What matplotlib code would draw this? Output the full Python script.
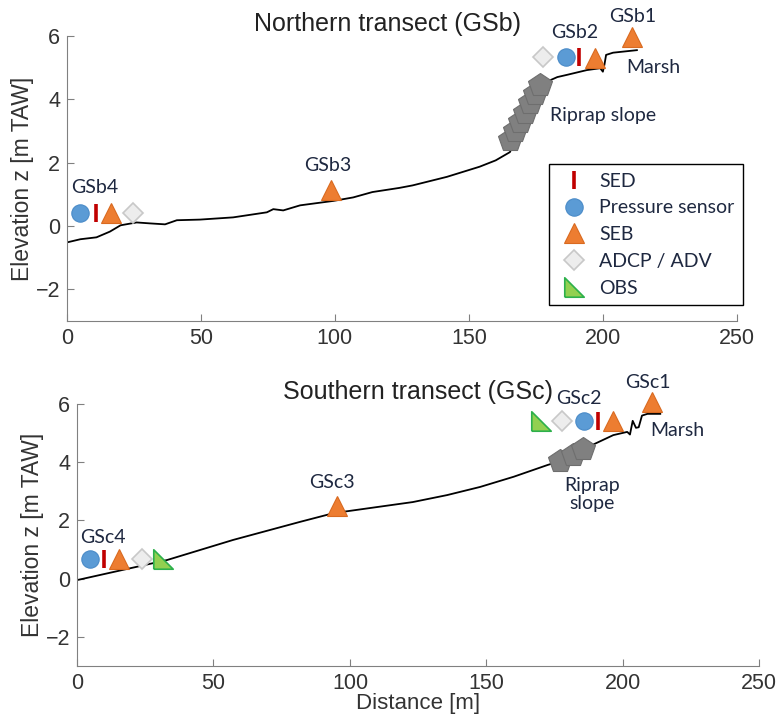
import matplotlib.pyplot as plt
from matplotlib.lines import Line2D

# cross-shore profiles (distance [m], elevation [m TAW])
gsb_x = [0, 5, 11, 16, 20, 26, 31, 36.6, 41, 49.6, 62, 74.6, 77, 80.7, 87, 99.4, 106.8,
         114, 124, 129, 141.8, 154, 160, 165.3, 170, 175, 179, 183, 186.6, 194, 199,
         200, 200.6, 201.2, 203.8, 212.7]
gsb_z = [-0.52, -0.42, -0.36, -0.18, 0.02, 0.11, 0.08, 0.05, 0.18, 0.2, 0.27, 0.43, 0.53,
         0.49, 0.65, 0.79, 0.9, 1.07, 1.2, 1.28, 1.55, 1.87, 2.07, 2.33, 3.2, 4.0, 4.55,
         4.7, 4.77, 4.92, 4.98, 4.87, 5.1, 5.4, 5.47, 5.55]

gsc_x = [0, 33, 57.2, 81.7, 94, 110, 123, 135.6, 147.7, 160, 172.3, 181.8, 189, 196.5,
         201.6, 202.6, 203.6, 204.8, 205.8, 207, 209, 213.7]
gsc_z = [-0.05, 0.64, 1.33, 1.95, 2.25, 2.46, 2.63, 2.87, 3.15, 3.5, 3.9, 4.18, 4.6, 4.93,
         5.04, 4.95, 5.42, 5.18, 5.2, 5.6, 5.66, 5.66]

# riprap blocks
riprap_b_x = [165.5, 167.3, 169.1, 170.9, 172.8, 174.6, 176.5]
riprap_b_z = [2.7, 2.99, 3.28, 3.57, 3.87, 4.16, 4.45]
riprap_c_x = [177, 181.8, 185.5]
riprap_c_z = [4.04, 4.25, 4.45]

# instruments per transect: (x, z)
gsb_sed = [(10.8, 0.4), (191, 5.33)]
gsb_ps = [(4.9, 0.4), (186.2, 5.33)]
gsb_seb = [(16.4, 0.42), (98.5, 1.15), (197, 5.3), (211, 5.95)]
gsb_adcp = [(24.7, 0.4), (177.6, 5.33)]
gsb_obs = []

gsc_sed = [(9.9, 0.66), (191, 5.4)]
gsc_ps = [(4.8, 0.66), (185.8, 5.4)]
gsc_seb = [(15.4, 0.66), (95.2, 2.5), (196.5, 5.4), (210.8, 6.05)]
gsc_adcp = [(23.8, 0.66), (177.8, 5.4)]
gsc_obs = [(31.5, 0.66), (170, 5.4)]

gsb_labels = [("GSb4", 10.5, 1.2), ("GSb3", 97.4, 1.9), ("GSb2", 189.6, 6.1), ("GSb1", 211, 6.6),
              ("Marsh", 218.7, 5.0), ("Riprap slope", 200, 3.5)]
gsc_labels = [("GSc4", 9.6, 1.43), ("GSc3", 93.4, 3.3), ("GSc2", 184, 6.2), ("GSc1", 209, 6.75),
              ("Marsh", 220, 5.1), ("Riprap\nslope", 188.8, 2.9)]

obs_marker = [(-1, -1), (-1, 1), (1, -1), (-1, -1)]
styles = {
    'sed': dict(marker='|', color='#C00000', ms=13, mew=2.6),
    'ps': dict(marker='o', mfc='#5B9BD5', mec='#4A8BC8', ms=12.5, mew=0.8),
    'seb': dict(marker='^', mfc='#ED7D31', mec='#D96A20', ms=15, mew=0.8),
    'adcp': dict(marker='D', mfc='#EDEDED', mec='#C8C8C8', ms=10.5, mew=1.2),
    'obs': dict(marker=obs_marker, mfc='#92D050', mec='#2DB04B', ms=14, mew=1.2),
}
ann_color = '#1E2840'
ann_font = 'Lato'
ax_font = 'Liberation Sans'

fig = plt.figure(figsize=(7.78, 7.18), dpi=100)
ax1 = fig.add_axes([0.0861, 0.553, 0.861, 0.397])
ax2 = fig.add_axes([0.099, 0.0724, 0.877, 0.365])


def draw_panel(ax, px, pz, rx, rz, inst, labels):
    ax.plot(px, pz, color='black', lw=1.3, zorder=2)
    ax.plot(rx, rz, ls='none', marker='p', ms=18, mfc='#808080', mec='#6E6E6E', mew=0.8, zorder=3)
    for key, pts in inst.items():
        for x, z in pts:
            ax.plot([x], [z], ls='none', zorder=4, clip_on=False, **styles[key])
    for txt, x, z in labels:
        ax.text(x, z, txt, ha='center', va='center', fontsize=14, color=ann_color,
                family=ann_font, linespacing=1.1, zorder=5)
    ax.set_xlim(0, 250)
    ax.set_ylim(-3, 6)
    ax.set_xticks([0, 50, 100, 150, 200, 250])
    ax.set_yticks([-2, 0, 2, 4, 6])
    for s in ['top', 'right']:
        ax.spines[s].set_visible(False)
    for s in ['left', 'bottom']:
        ax.spines[s].set_color('#808080')
    ax.tick_params(direction='in', length=5, colors='#808080', labelcolor='#333333',
                   labelsize=15.5, pad=5)
    ax.set_ylabel('Elevation z [m TAW]', fontsize=16.5, color='#333333', family=ax_font,
                  labelpad=1)
    for t in ax.get_xticklabels() + ax.get_yticklabels():
        t.set_family(ax_font)


draw_panel(ax1, gsb_x, gsb_z, riprap_b_x, riprap_b_z,
           {'sed': gsb_sed, 'ps': gsb_ps, 'seb': gsb_seb, 'adcp': gsb_adcp, 'obs': gsb_obs},
           gsb_labels)
draw_panel(ax2, gsc_x, gsc_z, riprap_c_x, riprap_c_z,
           {'sed': gsc_sed, 'ps': gsc_ps, 'seb': gsc_seb, 'adcp': gsc_adcp, 'obs': gsc_obs},
           gsc_labels)

ax1.text(0.478, 1.0, 'Northern transect (GSb)', transform=ax1.transAxes, ha='center',
         va='bottom', fontsize=18, family=ax_font, color='#222222')
ax2.text(0.5, 1.0, 'Southern transect (GSc)', transform=ax2.transAxes, ha='center',
         va='bottom', fontsize=18, family=ax_font, color='#222222')
ax2.set_xlabel('Distance [m]', fontsize=16, color='#333333', family=ax_font, labelpad=-1)

handles = [
    Line2D([], [], ls='none', **styles['sed']),
    Line2D([], [], ls='none', **styles['ps']),
    Line2D([], [], ls='none', **styles['seb']),
    Line2D([], [], ls='none', **styles['adcp']),
    Line2D([], [], ls='none', **styles['obs']),
]
names = ['SED', 'Pressure sensor', 'SEB', 'ADCP / ADV', 'OBS']
leg = ax1.legend(handles, names, loc='upper left', bbox_to_anchor=(0.719, 0.551),
                 borderaxespad=0, fancybox=False, edgecolor='black', framealpha=1,
                 prop={'family': ann_font, 'size': 14}, labelspacing=0.5,
                 handletextpad=0.45, borderpad=0.45, handlelength=1.7)
leg.get_frame().set_linewidth(1.0)
for t in leg.get_texts():
    t.set_color(ann_color)

fig.savefig('out.png', dpi=100)
